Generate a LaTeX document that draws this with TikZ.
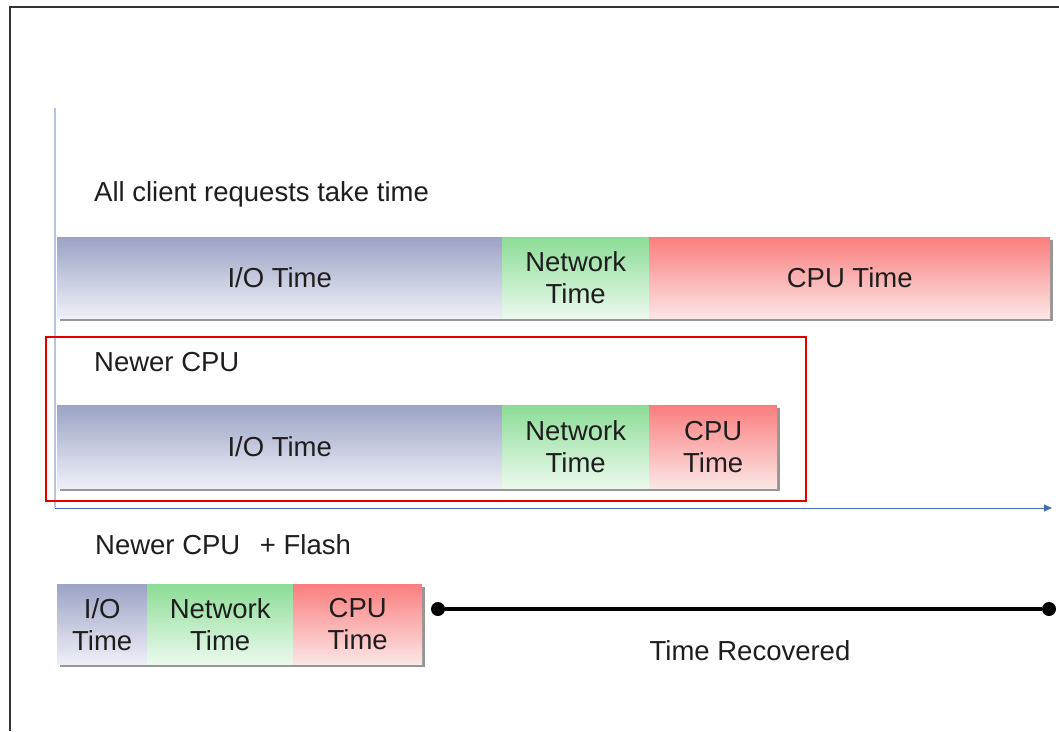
\documentclass[tikz,border=0pt]{standalone}
\usepackage{fontspec}
\setmainfont{Liberation Sans}
\usetikzlibrary{arrows.meta,calc}
\definecolor{iotop}{RGB}{156,163,197}
\definecolor{iobot}{RGB}{238,240,247}
\definecolor{nettop}{RGB}{140,220,150}
\definecolor{netbot}{RGB}{236,250,238}
\definecolor{cputop}{RGB}{250,126,126}
\definecolor{cpubot}{RGB}{252,230,230}
\definecolor{txt}{RGB}{30,30,30}
\definecolor{axisblue}{RGB}{70,110,180}
\definecolor{vaxis}{RGB}{185,195,222}
\definecolor{shadowgray}{RGB}{150,150,150}
\tikzset{
  seg/.style={anchor=north west, inner sep=0pt, align=center, text=txt,
    font=\fontsize{27.5}{32}\selectfont},
  iobox/.style={seg, top color=iotop, bottom color=iobot},
  netbox/.style={seg, top color=nettop, bottom color=netbot},
  cpubox/.style={seg, top color=cputop, bottom color=cpubot},
  title/.style={anchor=west, inner sep=0pt, text=txt, font=\fontsize{27.5}{32}\selectfont},
  shadowbar/.style={fill=shadowgray},
  dotnode/.style={circle, fill=black, minimum size=14pt, inner sep=0pt},
}
\begin{document}
\begin{tikzpicture}[x=1pt,y=-1pt]
\fill[white] (0,0) rectangle (1059,731);
\useasboundingbox (0,0) rectangle (1059,731);
% frame
\draw[line width=1.2pt, black!80] (10,731) -- (10,7) -- (1059,7);
% axes
\coordinate (v0) at (55,108);
\coordinate (ax0) at (55,508);
\coordinate (ax1) at (1052,508);
\draw[vaxis, line width=1.2pt] (v0) -- (ax0);
\draw[axisblue, line width=1pt, -{Triangle[length=8pt,width=7pt]}] (ax0) -- (ax1);

% title 1
\node[title] (t1) at (94,194) {All client requests take time};
% bar 1 shadow
\fill[shadowbar] (60,240) rectangle (1053,321);
\node[iobox, minimum width=445pt, minimum height=81pt] (io1) at (57,237) {I/O Time};
\node[netbox, minimum width=147pt, minimum height=81pt] (net1) at (502,237) {Network\\Time};
\node[cpubox, minimum width=401pt, minimum height=81pt] (cpu1) at (649,237) {CPU Time};

% red box
\node[draw=red!90!black, line width=2pt, minimum width=760pt, minimum height=164pt, anchor=north west, inner sep=0pt] (redbox) at (45,336) {};
\node[title] (t2) at (94,362) {Newer CPU};
\fill[shadowbar] (60,408) rectangle (780,491);
\node[iobox, minimum width=445pt, minimum height=83pt] (io2) at (57,405) {I/O Time};
\node[netbox, minimum width=147pt, minimum height=83pt] (net2) at (502,405) {Network\\Time};
\node[cpubox, minimum width=128pt, minimum height=83pt] (cpu2) at (649,405) {CPU\\Time};

% bar 3
\node[title] (t3) at (95,545) {Newer CPU\hspace{12pt} + Flash};
\fill[shadowbar] (60,587) rectangle (425,667);
\node[iobox, minimum width=90pt, minimum height=80pt] (io3) at (57,584) {I/O\\Time};
\node[netbox, minimum width=146pt, minimum height=80pt] (net3) at (147,584) {Network\\Time};
\node[cpubox, minimum width=129pt, minimum height=80pt] (cpu3) at (293,584) {CPU\\Time};

% time recovered
\node[dotnode] (d1) at (438,609) {};
\node[dotnode] (d2) at (1049,609) {};
\draw[line width=3.2pt] (d1) -- (d2);
\node[anchor=center, inner sep=0pt, text=txt, font=\fontsize{27.5}{32}\selectfont] (tr) at (750,651) {Time Recovered};
\end{tikzpicture}
\end{document}
